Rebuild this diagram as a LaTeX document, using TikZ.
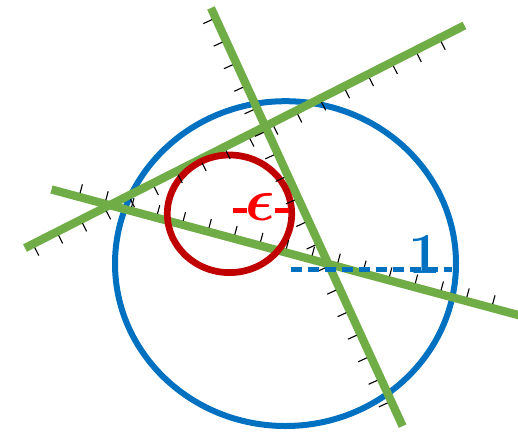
\documentclass[tikz,border=0pt]{standalone}
\usepackage{graphicx}
\definecolor{cblue}{RGB}{0,112,192}
\definecolor{cgreen}{RGB}{112,173,71}
\definecolor{cdred}{RGB}{192,0,0}
\definecolor{cred}{RGB}{255,0,0}
\tikzset{
  greenline/.style={cgreen, line width=8.3pt},
  tickline/.style={black, line width=1.1pt},
  unitcircle/.style={cblue, line width=6pt},
  epscircle/.style={cdred, line width=6.7pt},
}
\begin{document}
\begin{tikzpicture}[x=1pt,y=-1pt]
\clip (0,0) rectangle (518,431);
% blue unit circle
\draw[unitcircle] (285.5,263.6) ellipse [x radius=170.5pt, y radius=162.4pt];
% green lines
\coordinate (a1) at (211,8);
\coordinate (b1) at (402.6,426.1);
\coordinate (a2) at (25,248);
\coordinate (b2) at (464.4,25.5);
\coordinate (a3) at (51.5,189.5);
\coordinate (b3) at (530,318.2);
\draw[greenline] (a1) -- (b1);
\draw[greenline] (a2) -- (b2);
\draw[greenline] (a3) -- (b3);
% red circle
\draw[epscircle] (229.5,213.8) ellipse [x radius=62.2pt, y radius=58.8pt];
% ticks line 1
\foreach \k in {0,...,17}{
  \pgfmathsetmacro\t{11+24.8*\k}
  \draw[tickline] ({211+\t*0.4165-4*0.909},{8+\t*0.909+4*0.4165}) -- ++({-9.5*0.909},{9.5*0.4165});
}
% ticks line 2
\foreach \k in {0,...,17}{
  \pgfmathsetmacro\t{8.9+26.8*\k}
  \draw[tickline] ({25+\t*0.892+4*0.4517},{248-\t*0.4517+4*0.892}) -- ++({9*0.4517},{9*0.892});
}
% ticks line 3
\foreach \k in {0,...,17}{
  \pgfmathsetmacro\t{28.5+26.7*\k}
  \draw[tickline] ({51.5+\t*0.9658+4*0.2598},{189.5+\t*0.2598-4*0.9658}) -- ++({9*0.2598},{-9*0.9658});
}
% radius dashes
\coordinate (r1s) at (290.7,269);
\coordinate (r1e) at (452,269);
\draw[cblue, line width=5pt, dash pattern=on 11pt off 6pt] (r1s) -- (r1e);
\coordinate (r2s) at (232.7,210.4);
\coordinate (r2e) at (288.7,210.4);
\draw[cred, line width=4.7pt, dash pattern=on 14pt off 28pt] (r2s) -- (r2e);
% labels
\node[text=cred, anchor=base, inner sep=0pt] (eps) at (260.5,220) {\scalebox{2.45}{\Huge\boldmath$\epsilon$}};
\node[text=cblue, font=\fontsize{58}{58}\selectfont\bfseries, anchor=base, inner sep=0pt] (one) at (425,273) {1};
\end{tikzpicture}
\end{document}
